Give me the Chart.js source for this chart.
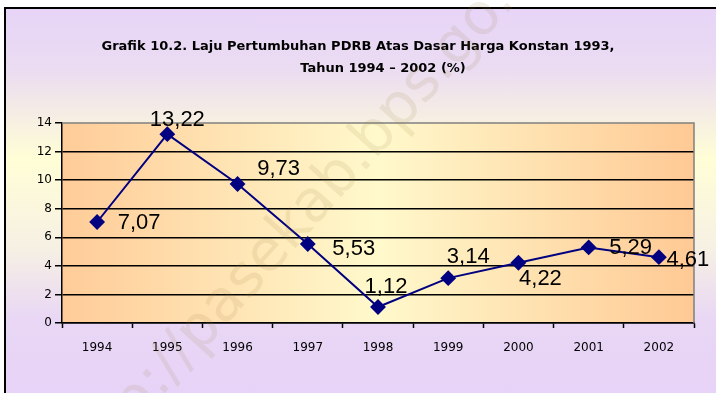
<!DOCTYPE html>
<html>
<head>
<meta charset="utf-8">
<script src="https://cdn.jsdelivr.net/npm/chart.js@4/dist/chart.umd.min.js"></script>
<style>
  html, body { margin: 0; padding: 0; background: #fff; }
  #wrap { position: relative; width: 716px; height: 393px; overflow: hidden; }
  #frame {
    position: absolute; left: 4px; top: 7px; width: 760px; height: 420px;
    border-left: 2px solid #000; border-top: 2px solid #000;
    background: linear-gradient(to bottom, #e7d4f7 0px, #ebdcf2 60px, #fffed6 150px, #f6f0e4 240px, #e9d7f5 310px, #e6d1f8 420px);
  }
  canvas { position: absolute; left: 0; top: 0; }
</style>
</head>
<body>
<div id="wrap">
  <div id="frame"></div>
  <canvas id="chart-pdrb" width="716" height="393"></canvas>
</div>
<script>
// Laju pertumbuhan PDRB (harga konstan 1993), persen
const years = ['1994', '1995', '1996', '1997', '1998', '1999', '2000', '2001', '2002'];
const growth = [7.07, 13.22, 9.73, 5.53, 1.12, 3.14, 4.22, 5.29, 4.61];
const yMin = 0, yMax = 14, yStep = 2;
const titleLines = [
  'Grafik 10.2. Laju Pertumbuhan PDRB Atas Dasar Harga Konstan 1993,',
  'Tahun 1994 \u2013 2002 (%)'
];
const watermarkText = 'http://pasekab.bps.go.id';

// where each value label sits relative to its marker (dx, dy)
const labelOffsets = [[42, -1], [10, -16], [41, -17], [46, 3], [8, -22], [20, -23], [22, 14], [42, -1], [29, 1]];

const fmt = v => v.toFixed(2).replace('.', ',');

// peach -> cream -> peach fill behind the plot
const plotBackground = {
  id: 'plotBackground',
  beforeDraw(chart) {
    const { ctx, chartArea: a } = chart;
    const g = ctx.createLinearGradient(a.left, 0, a.right, 0);
    g.addColorStop(0, '#ffcc98');
    g.addColorStop(0.5, '#fff9cc');
    g.addColorStop(1, '#ffc994');
    ctx.save();
    ctx.fillStyle = g;
    ctx.fillRect(a.left, a.top, a.right - a.left, a.bottom - a.top);
    ctx.restore();
  }
};

// grey top/right edge of the plot box
const plotEdge = {
  id: 'plotEdge',
  beforeDatasetsDraw(chart) {
    const { ctx, chartArea: a } = chart;
    ctx.save();
    ctx.strokeStyle = '#808080';
    ctx.lineWidth = 1.5;
    ctx.beginPath();
    ctx.moveTo(a.left, a.top);
    ctx.lineTo(a.right, a.top);
    ctx.lineTo(a.right, a.bottom);
    ctx.stroke();
    ctx.restore();
  }
};

const valueLabels = {
  id: 'valueLabels',
  afterDatasetsDraw(chart) {
    const { ctx } = chart;
    const meta = chart.getDatasetMeta(0);
    ctx.save();
    ctx.font = '22px "Liberation Sans", Arial, sans-serif';
    ctx.fillStyle = '#000';
    ctx.textAlign = 'center';
    ctx.textBaseline = 'alphabetic';
    meta.data.forEach((pt, i) => {
      const [dx, dy] = labelOffsets[i];
      ctx.fillText(fmt(growth[i]), pt.x + dx, pt.y + dy + 8);
    });
    ctx.restore();
  }
};

const titleText = {
  id: 'titleText',
  afterDraw(chart) {
    const { ctx } = chart;
    ctx.save();
    ctx.font = 'bold 13px "DejaVu Sans", sans-serif';
    ctx.fillStyle = '#000';
    ctx.textAlign = 'center';
    ctx.textBaseline = 'middle';
    ctx.fillText(titleLines[0], 358, 47);
    ctx.fillText(titleLines[1], 383, 69);
    ctx.restore();
  }
};

const watermark = {
  id: 'watermark',
  afterDraw(chart) {
    const { ctx } = chart;
    ctx.save();
    ctx.translate(305, 215);
    ctx.rotate(-48 * Math.PI / 180);
    ctx.font = '58px "DejaVu Sans", sans-serif';
    ctx.fillStyle = 'rgba(150, 120, 60, 0.12)';
    ctx.textAlign = 'center';
    ctx.textBaseline = 'middle';
    ctx.fillText(watermarkText, 0, 0);
    ctx.restore();
  }
};

new Chart(document.getElementById('chart-pdrb'), {
  type: 'line',
  data: {
    labels: years,
    datasets: [{
      data: growth,
      borderColor: '#000080',
      borderWidth: 2,
      backgroundColor: '#000080',
      pointStyle: 'rectRot',
      pointRadius: 6.5,
      pointBackgroundColor: '#000080',
      pointBorderColor: '#000080',
      tension: 0,
      clip: false
    }]
  },
  options: {
    responsive: false,
    animation: false,
    layout: { padding: { top: 123, right: 22, bottom: 0, left: 0 } },
    plugins: {
      legend: { display: false },
      tooltip: { enabled: false },
      title: { display: false }
    },
    scales: {
      x: {
        offset: true,
        grid: { offset: true, drawOnChartArea: false, drawTicks: true, tickLength: 5, tickColor: '#000', tickWidth: 1.5 },
        border: { color: '#000', width: 1.5 },
        ticks: { color: '#000', font: { family: '"DejaVu Sans", sans-serif', size: 12 }, padding: 13, maxRotation: 0 },
        afterFit: s => { s.height = 70; }
      },
      y: {
        min: yMin,
        max: yMax,
        ticks: { stepSize: yStep, color: '#000', font: { family: '"DejaVu Sans", sans-serif', size: 12 }, padding: 3 },
        grid: {
          color: c => (c.tick && c.tick.value === yMax) ? 'rgba(0,0,0,0)' : '#000',
          lineWidth: 1.5,
          tickLength: 7,
          tickColor: '#000',
          tickWidth: 1.5
        },
        border: { color: '#000', width: 1.5 },
        afterFit: s => { s.width = 62; }
      }
    }
  },
  plugins: [plotBackground, plotEdge, valueLabels, titleText, watermark]
});
</script>
</body>
</html>
